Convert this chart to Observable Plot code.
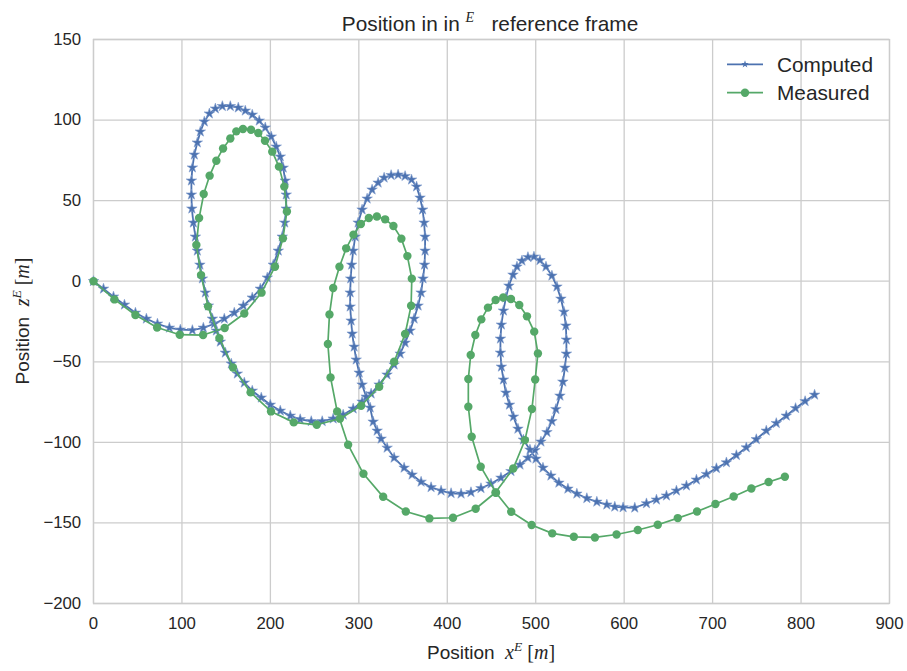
<!DOCTYPE html>
<html><head><meta charset="utf-8">
<script src="https://cdn.jsdelivr.net/npm/d3@7"></script>
<script src="https://cdn.jsdelivr.net/npm/@observablehq/plot@0.6"></script>
<style>
body{margin:0;background:#fff}
#chart svg{display:block}
</style>
</head><body><div id="chart"></div>
<script>
const seriesNames = ["Computed", "Measured"];
const seriesColors = ["#4C72B0", "#55A868"];
const xTicks = [0, 100, 200, 300, 400, 500, 600, 700, 800, 900];
const yTicks = [-200, -150, -100, -50, 0, 50, 100, 150];

const computedX = [
0,11.3,22.6,35,47.4,59.8,72.3,85.8,98.2,111.8,
124.2,136.6,147.9,159.2,169.4,179.5,188.6,196.5,203.3,208.9,
213.4,216.2,217.9,217.9,216.8,214.5,211.2,206.6,201,194.2,
187.4,179.5,171.6,163.7,154.7,145.7,137.8,131,125.3,120.8,
117.4,114,111.8,110.7,110.7,111.2,112.9,115.2,117.4,120.3,
123.1,126.5,129.9,134.4,138.9,143.4,149.1,155.8,162.6,170.5,
179.5,189.7,199.9,211.2,222.5,233.7,246.2,258.6,271,282.3,
293.6,303.7,313.9,322.9,331.9,339.9,346.7,352.3,358,362.5,
367,370.4,372.6,374.3,374.9,374.9,373.8,372.1,369.2,365.3,
359.6,352.3,344.4,336.5,328.6,321.8,315,309.4,303.7,299.2,
295.9,293.6,291.9,290.8,290.2,290.2,291.3,292.5,294.7,297,
300.4,303.7,308.3,312.8,316.2,320.7,325.2,332,339.9,351.2,
360.2,370.4,381.7,393,404.3,415.6,426.8,438.1,449.4,460.7,
472,482.2,491.2,499.1,505.9,512.7,518.3,522.8,527.4,530.7,
533,534.7,534.7,534.1,531.9,528.5,524,518.3,511.6,504.8,
498,491.2,484.4,478.8,474.3,469.7,466.3,463.5,461.2,460.1,
460.1,461.2,463.5,466.3,470.3,474.8,479.9,486.1,493.5,500.3,
508.2,517.2,526.2,536.4,546.5,557.8,569.1,580.4,589.4,598.8,
612,625.2,636.5,647.8,659.1,670.4,681.7,693,704.3,715.6,
726.9,738.1,749.4,760.7,772,783.3,793.8,804.6,815.3
];
const computedZ = [
0,-4.7,-9.6,-14.6,-19.6,-23.3,-26.4,-28.9,-30.1,-30.4,
-28.9,-26.4,-23.3,-19.6,-15.2,-10.2,-4.7,2.2,10.2,18.9,
27.6,36.3,45,53.7,62.4,70.4,77.3,83.5,89.7,95.3,
99.6,103.3,105.8,107.7,108.6,108.6,107.1,104,99,92.8,
86,78.5,70.5,62.4,53.7,45,36.3,27.6,18.9,10.2,
1.6,-7.1,-15.2,-23.3,-30.7,-37.6,-44.4,-51.2,-57.4,-63,
-68,-72.3,-76.7,-80.4,-83.5,-85.7,-86.9,-86.9,-85.3,-82.9,
-79.1,-74.8,-69.8,-64.2,-58,-51.8,-45,-38.2,-30.7,-23.3,
-15.2,-7.1,1.6,10.2,18.9,27.6,36.3,44.4,51.8,58.7,
63,65.2,66.1,65.8,64.2,61.1,56.8,51.2,44.4,36.3,
27.6,18.9,10.2,1.6,-7.1,-15.8,-24.5,-32.6,-40.7,-48.7,
-56.8,-64.2,-71.7,-78.5,-87.2,-92.8,-97.8,-103.4,-109.6,-115.8,
-120.1,-124.5,-127.9,-130,-131.6,-131.9,-131,-128.5,-125.7,-122,
-117.9,-113.9,-109.6,-104.9,-99.6,-93.7,-86.9,-79.4,-71.1,-62.4,
-53.7,-45,-36.3,-27.6,-19,-10.9,-3.4,3.4,9,13,
15.2,14.9,12.7,9,4,-2.8,-10.2,-18.3,-27,-35.7,
-44.4,-53.1,-61.1,-69.2,-76.7,-84.1,-91.6,-98.4,-104.6,-110.2,
-115.8,-120.7,-125.1,-128.8,-131.9,-134.7,-136.9,-138.7,-140,-140.4,
-140.6,-137.9,-135.6,-133.1,-130,-126.9,-123.2,-119.7,-116.1,-112.5,
-108,-103.2,-98.1,-92.8,-88.1,-83.5,-78.8,-74.5,-70.5
];

const measuredX = [
0,23.7,47.4,71.9,97.5,123.9,148.3,170.5,190,205.2,
214.2,218.7,215.7,209.7,202.1,193.9,186.3,178.1,169,161.5,
154.7,146.5,138.9,131.3,124.6,119.4,116.3,121.6,129.5,142.3,
157.7,177.6,200.7,226.4,252.4,278.6,302.6,323,339.9,352.3,
359.1,359.9,354.9,348.1,339.1,329.7,320.4,311.3,302.3,293.9,
285.7,278.1,271,266.8,265,268,275.5,287.9,305.2,327.5,
353.1,379.8,406.5,432.1,454.5,474.6,487.8,495.7,499.4,502.5,
498.3,490.1,481.4,472,463.3,454.7,446,438.5,431.7,426.5,
423.8,423.8,427.6,437.8,455.1,472.3,495.4,518.7,543.1,566.9,
591.4,615.4,638,660.6,682.4,703.2,723.8,743.8,763.3,781.7
];
const measuredZ = [
0,-11.3,-21,-28.7,-33.2,-33.4,-29,-20,-7.1,9,
26.6,43.3,58.7,71.1,80.4,87.2,92,94,94.5,93,
88.6,82.4,74.8,65.5,54.1,39.2,22.5,3.8,-15.6,-35.3,
-53.5,-69,-80.8,-87.6,-89.1,-85.3,-77.3,-65.5,-50,-32.8,
-15.2,1.6,15.6,26.4,34.3,38.4,40.2,39.2,35.5,28.9,
20.4,9,-4.2,-20.6,-39,-59.7,-80.8,-101.5,-119.5,-133.8,
-142.9,-147.2,-146.8,-141.2,-131.1,-116.2,-98.6,-79.3,-61,-44.8,
-31.3,-21.8,-14.8,-11,-10.1,-11.7,-16.4,-23.7,-33.4,-45.8,
-60.7,-77.9,-96.5,-115.1,-131.3,-143.1,-151.3,-156.5,-158.6,-159,
-157.2,-154.4,-151.1,-147,-142.9,-138.3,-133.6,-128.6,-124.6,-121.3
];

const computed = computedX.map((x, i) => ({x, z: computedZ[i]}));
const measured = measuredX.map((x, i) => ({x, z: measuredZ[i]}));

const W = 907, H = 671;
const mL = 93, mR = 18, mT = 39, mB = 68;
const textColor = "#262626";
const gridColor = "#cccccc";
const starR = 3.3;

const chart = Plot.plot({
  width: W, height: H,
  marginLeft: mL, marginRight: mR, marginTop: mT, marginBottom: mB,
  style: {fontFamily: "'Liberation Sans', Arial, sans-serif", fontSize: "16.8px", color: textColor, background: "#fff"},
  x: {domain: [0, 900]},
  y: {domain: [-200, 150]},
  marks: [
    Plot.gridX(xTicks, {stroke: gridColor, strokeOpacity: 1, strokeWidth: 1.3}),
    Plot.gridY(yTicks, {stroke: gridColor, strokeOpacity: 1, strokeWidth: 1.3}),
    Plot.frame({stroke: gridColor, strokeWidth: 1.3}),
    Plot.axisX(xTicks, {tickSize: 0, tickPadding: 13.5, label: null, fill: textColor}),
    Plot.axisY(yTicks, {tickSize: 0, tickPadding: 12.3, label: null, fill: textColor}),
    Plot.line(computed, {x: "x", y: "z", stroke: seriesColors[0], strokeWidth: 1.8}),
    Plot.dot(computed, {x: "x", y: "z", symbol: "star", fill: seriesColors[0], stroke: "#7f9ccc", strokeWidth: 0.6, r: starR}),
    Plot.line(measured, {x: "x", y: "z", stroke: seriesColors[1], strokeWidth: 1.7}),
    Plot.dot(measured, {x: "x", y: "z", fill: seriesColors[1], stroke: null, r: 4.2})
  ]
});
document.getElementById("chart").appendChild(chart);

const svg = d3.select(chart);
const serif = "'Liberation Serif', 'DejaVu Serif', serif";

// Title
const title = svg.append("text")
  .attr("x", 490).attr("y", 31)
  .attr("text-anchor", "middle")
  .attr("fill", textColor)
  .style("font-size", "20.8px")
  .style("white-space", "pre");
title.append("tspan").text("Position in in ");
title.append("tspan").attr("font-family", serif).attr("font-style", "italic")
  .attr("font-size", "14px").attr("dy", -9).text("E");
title.append("tspan").attr("dy", 9).text("   reference frame");

// X label
const xl = svg.append("text")
  .attr("x", 491).attr("y", 659)
  .attr("text-anchor", "middle")
  .attr("fill", textColor)
  .style("font-size", "19px")
  .style("white-space", "pre");
xl.append("tspan").text("Position  ");
xl.append("tspan").attr("font-family", serif).attr("font-style", "italic").attr("font-size", "20px").text("x");
xl.append("tspan").attr("font-family", serif).attr("font-style", "italic").attr("font-size", "13.5px").attr("dy", -8).text("E");
xl.append("tspan").attr("font-family", serif).attr("font-size", "20px").attr("dy", 8).text(" [");
xl.append("tspan").attr("font-family", serif).attr("font-style", "italic").attr("font-size", "20px").text("m");
xl.append("tspan").attr("font-family", serif).attr("font-size", "20px").text("]");

// Y label
const yl = svg.append("text")
  .attr("transform", "translate(29,321) rotate(-90)")
  .attr("text-anchor", "middle")
  .attr("fill", textColor)
  .style("font-size", "19px")
  .style("white-space", "pre");
yl.append("tspan").text("Position  ");
yl.append("tspan").attr("font-family", serif).attr("font-style", "italic").attr("font-size", "20px").text("z");
yl.append("tspan").attr("font-family", serif).attr("font-style", "italic").attr("font-size", "13.5px").attr("dy", -8).text("E");
yl.append("tspan").attr("font-family", serif).attr("font-size", "20px").attr("dy", 8).text(" [");
yl.append("tspan").attr("font-family", serif).attr("font-style", "italic").attr("font-size", "20px").text("m");
yl.append("tspan").attr("font-family", serif).attr("font-size", "20px").text("]");

// Legend
const legend = svg.append("g").attr("text-anchor", "start");
const legendRows = [64.3, 92.7];
seriesNames.forEach((name, i) => {
  const yy = legendRows[i];
  legend.append("line").attr("x1", 727).attr("x2", 763).attr("y1", yy).attr("y2", yy)
    .attr("stroke", seriesColors[i]).attr("stroke-width", 1.7);
  if (i === 0) {
    legend.append("path").attr("d", d3.symbol(d3.symbolStar, Math.PI * 2.4 * 2.4)())
      .attr("transform", `translate(745,${yy})`).attr("fill", seriesColors[i]);
  } else {
    legend.append("circle").attr("cx", 745).attr("cy", yy).attr("r", 4.2).attr("fill", seriesColors[i]);
  }
  legend.append("text").attr("x", 777).attr("y", yy).attr("dy", "0.35em")
    .attr("text-anchor", "start")
    .attr("fill", textColor).style("font-size", "20.8px").text(name);
});
</script>
</body></html>
